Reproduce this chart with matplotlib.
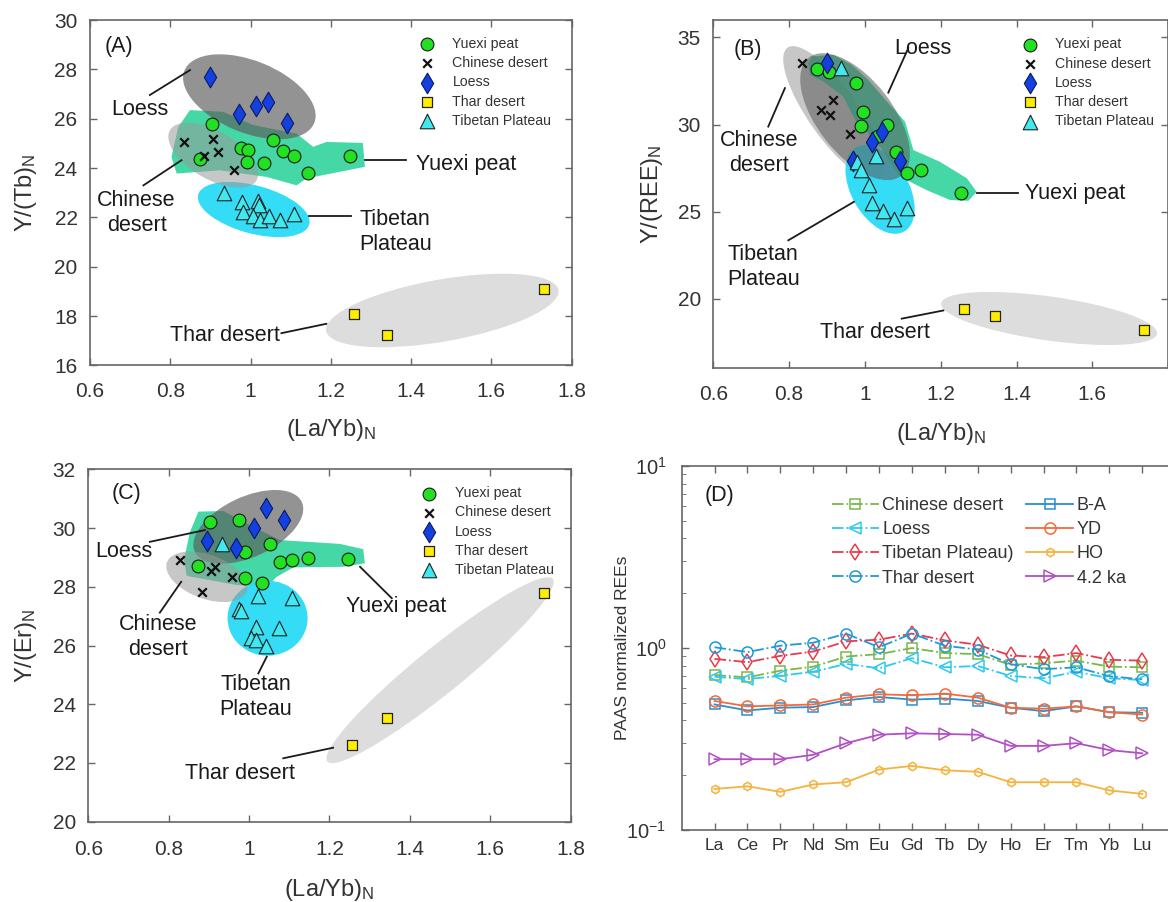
import matplotlib
matplotlib.use('Agg')
import matplotlib.pyplot as plt
from matplotlib.patches import Ellipse, Polygon
from matplotlib.transforms import ScaledTranslation

plt.rcParams['font.family'] = 'Liberation Sans'
plt.rcParams['mathtext.fontset'] = 'custom'
plt.rcParams['mathtext.rm'] = 'Liberation Sans'
plt.rcParams['mathtext.it'] = 'Liberation Sans:italic'
plt.rcParams['mathtext.bf'] = 'Liberation Sans:bold'

# ---- (A) Y/Tb vs La/Yb ----
a_yuexi_x = [0.905, 0.976, 0.993, 0.874, 0.990, 1.034, 1.055, 1.080, 1.109, 1.144, 1.249]
a_yuexi_y = [25.78, 24.83, 24.72, 24.35, 24.24, 24.20, 25.13, 24.68, 24.49, 23.80, 24.49]
a_chn_x = [0.835, 0.907, 0.918, 0.884, 0.959]
a_chn_y = [25.06, 25.17, 24.67, 24.49, 23.91]
a_loess_x = [0.899, 0.971, 1.013, 1.044, 1.090]
a_loess_y = [27.70, 26.21, 26.51, 26.67, 25.83]
a_thar_x = [1.257, 1.340, 1.731]
a_thar_y = [18.10, 17.25, 19.10]
a_tib_x = [0.934, 0.979, 1.019, 1.021, 0.982, 1.007, 1.023, 1.045, 1.074, 1.108]
a_tib_y = [22.97, 22.63, 22.67, 22.49, 22.20, 22.05, 21.88, 22.06, 21.88, 22.12]

# ---- (B) Y/REE vs La/Yb ----
b_yuexi_x = [0.874, 0.906, 0.976, 0.994, 0.990, 1.058, 1.035, 1.081, 1.112, 1.148, 1.253]
b_yuexi_y = [33.17, 33.02, 32.36, 30.71, 29.90, 30.00, 29.32, 28.40, 27.21, 27.40, 26.06]
b_chn_x = [0.833, 0.917, 0.883, 0.908, 0.961]
b_chn_y = [33.56, 31.40, 30.86, 30.52, 29.48]
b_loess_x = [0.899, 1.044, 1.018, 0.969, 1.093]
b_loess_y = [33.52, 29.55, 28.98, 27.88, 27.88]
b_thar_x = [1.261, 1.344, 1.737]
b_thar_y = [19.42, 19.00, 18.21]
b_tib_x = [0.937, 1.028, 0.978, 0.989, 1.012, 1.020, 1.047, 1.077, 1.112]
b_tib_y = [33.27, 28.21, 27.82, 27.40, 26.53, 25.51, 25.05, 24.56, 25.19]

# ---- (C) Y/Er vs La/Yb ----
c_yuexi_x = [0.902, 0.976, 1.053, 0.991, 0.873, 1.078, 1.107, 1.146, 1.247, 0.989, 1.032]
c_yuexi_y = [30.21, 30.27, 29.47, 29.18, 28.70, 28.86, 28.90, 28.99, 28.93, 28.29, 28.14]
c_chn_x = [0.829, 0.914, 0.906, 0.958, 0.883]
c_chn_y = [28.90, 28.69, 28.53, 28.32, 27.81]
c_loess_x = [1.041, 1.088, 1.012, 0.895, 0.968]
c_loess_y = [30.69, 30.27, 30.01, 29.56, 29.33]
c_thar_x = [1.257, 1.342, 1.734]
c_thar_y = [22.62, 23.53, 27.78]
c_tib_x = [0.933, 1.022, 1.107, 0.976, 0.980, 1.017, 1.074, 1.004, 1.016, 1.042]
c_tib_y = [29.47, 27.70, 27.61, 27.24, 27.18, 26.64, 26.61, 26.25, 26.18, 25.99]

# ---- (D) PAAS normalized REE patterns ----
ree = ['La', 'Ce', 'Pr', 'Nd', 'Sm', 'Eu', 'Gd', 'Tb', 'Dy', 'Ho', 'Er', 'Tm', 'Yb', 'Lu']
d_chinese = [0.711, 0.690, 0.751, 0.790, 0.898, 0.926, 1.000, 0.938, 0.926, 0.808, 0.825, 0.853, 0.790, 0.784]
d_loess = [0.695, 0.675, 0.704, 0.741, 0.818, 0.774, 0.880, 0.784, 0.797, 0.702, 0.682, 0.741, 0.682, 0.667]
d_tibet = [0.872, 0.836, 0.906, 0.957, 1.088, 1.112, 1.200, 1.102, 1.043, 0.910, 0.891, 0.938, 0.861, 0.853]
d_thar = [1.010, 0.950, 1.030, 1.070, 1.200, 1.010, 1.200, 1.030, 0.980, 0.815, 0.765, 0.784, 0.700, 0.673]
d_ba = [0.490, 0.454, 0.470, 0.474, 0.516, 0.538, 0.521, 0.528, 0.512, 0.470, 0.450, 0.478, 0.444, 0.441]
d_yd = [0.512, 0.478, 0.484, 0.490, 0.534, 0.557, 0.550, 0.562, 0.534, 0.470, 0.464, 0.478, 0.444, 0.431]
d_ho = [0.168, 0.174, 0.162, 0.178, 0.183, 0.215, 0.225, 0.213, 0.209, 0.183, 0.183, 0.183, 0.165, 0.158]
d_42ka = [0.245, 0.245, 0.245, 0.259, 0.300, 0.334, 0.340, 0.337, 0.334, 0.290, 0.290, 0.300, 0.275, 0.264]

xticks = [0.6, 0.8, 1.0, 1.2, 1.4, 1.6, 1.8]
xticklabels = ['0.6', '0.8', '1', '1.2', '1.4', '1.6', '1.8']
TXT = '#1a1a1a'
GRID = '#666666'

fig = plt.figure(figsize=(11.68, 9.02), dpi=100)
ax_a = fig.add_axes([0.0771, 0.5948, 0.4122, 0.3830])
ax_b = fig.add_axes([0.6107, 0.5917, 0.3894, 0.3861])
ax_c = fig.add_axes([0.0756, 0.0890, 0.4130, 0.3907])
ax_d = fig.add_axes([0.5836, 0.0798, 0.4225, 0.4035])


def blob(ax, cx, cy, w, h, ang, color, alpha, z):
    # ellipse sized in screen pixels, centred on a data point
    tr = fig.dpi_scale_trans + ScaledTranslation(cx, cy, ax.transData)
    ax.add_patch(Ellipse((0, 0), w / 100, h / 100, angle=ang, transform=tr,
                         fc=color, ec='none', alpha=alpha, zorder=z))


def envelope(ax, pts):
    ax.add_patch(Polygon(pts, closed=True, fc='#24d195', ec='none', alpha=0.85, zorder=2))


def tag(ax, x, y, s, line, ha='center'):
    ax.text(x, y, s, ha=ha, va='center', fontsize=15.5, color=TXT, linespacing=1.25, zorder=7)
    (x1, y1), (x2, y2) = line
    ax.plot([x1, x2], [y1, y2], color=TXT, lw=1.3, zorder=7)


def points(ax, yx, yy, cx, cy, lx, ly, thx, thy, tx, ty):
    h1 = ax.scatter(yx, yy, s=85, marker='o', fc='#22e022', ec='#1a1a1a', lw=0.8, zorder=6)
    h2 = ax.scatter(cx, cy, s=38, marker='x', c='#111111', lw=1.6, zorder=6)
    h3 = ax.scatter(lx, ly, s=110, marker='d', fc='#1440e0', ec='#0a1a60', lw=0.8, zorder=6)
    h4 = ax.scatter(thx, thy, s=60, marker='s', fc='#ffee00', ec='#222222', lw=0.9, zorder=6)
    h5 = ax.scatter(tx, ty, s=110, marker='^', fc='#40e8f0', ec='#222222', lw=0.8, zorder=6)
    return [h1, h2, h3, h4, h5]


def legend(ax, handles, fx, fy):
    leg = ax.legend(handles, ['Yuexi peat', 'Chinese desert', 'Loess', 'Thar desert', 'Tibetan Plateau'],
                    loc='upper left', bbox_to_anchor=(fx, fy), frameon=False, fontsize=10.2,
                    handlelength=1.0, handletextpad=1.3, labelspacing=0.37, borderpad=0,
                    borderaxespad=0, scatterpoints=1)
    for t in leg.get_texts():
        t.set_color('#333333')


def frame(ax, ylim, yticks, ylabel, ylab_x, xlab_y, xpad):
    ax.set_xlim(0.6, 1.8)
    ax.set_ylim(*ylim)
    ax.set_xticks(xticks)
    ax.set_xticklabels(xticklabels)
    ax.set_yticks(yticks)
    ax.tick_params(direction='in', top=True, right=True, length=5, width=1,
                   color=GRID, labelcolor='#333333', labelsize=15)
    ax.tick_params(axis='x', pad=xpad)
    ax.tick_params(axis='y', pad=9)
    for s in ax.spines.values():
        s.set_color(GRID)
        s.set_linewidth(1.2)
    ax.set_xlabel(r'(La/Yb)$_\mathregular{N}$', fontsize=17, color='#333333')
    ax.set_ylabel(ylabel, fontsize=17, color='#333333')
    ax.xaxis.set_label_coords(0.5, xlab_y)
    ax.yaxis.set_label_coords(ylab_x, 0.5)


# panel A
blob(ax_a, 1.478, 18.23, 236, 62, 10, '#dddddd', 1.0, 1)
blob(ax_a, 1.008, 22.32, 115, 48, -15, '#2adaf6', 0.95, 1)
envelope(ax_a, [(0.849, 26.35), (0.932, 26.28), (1.007, 25.74), (1.115, 25.40), (1.156, 24.86),
                (1.189, 25.06), (1.280, 25.02), (1.285, 24.05), (1.139, 23.58), (1.115, 23.30),
                (1.040, 23.64), (0.924, 23.91), (0.816, 23.78), (0.803, 24.45), (0.820, 25.67)])
blob(ax_a, 0.997, 26.89, 140, 72, -22, '#5a5a5a', 0.65, 3)
blob(ax_a, 0.907, 24.52, 100, 48, -30, '#999999', 0.55, 4)
hs = points(ax_a, a_yuexi_x, a_yuexi_y, a_chn_x, a_chn_y, a_loess_x, a_loess_y,
            a_thar_x, a_thar_y, a_tib_x, a_tib_y)
legend(ax_a, hs, 0.685, 0.951)
tag(ax_a, 0.724, 26.39, 'Loess', [(0.749, 26.96), (0.849, 27.97)])
tag(ax_a, 0.716, 22.16, 'Chinese\ndesert', [(0.733, 23.30), (0.828, 24.32)])
tag(ax_a, 1.413, 24.14, 'Yuexi peat', [(1.285, 24.32), (1.388, 24.32)], ha='left')
tag(ax_a, 1.272, 21.41, 'Tibetan\nPlateau', [(1.146, 22.06), (1.251, 22.06)], ha='left')
tag(ax_a, 1.073, 17.22, 'Thar desert', [(1.077, 17.31), (1.189, 17.69)], ha='right')
ax_a.text(0.059, 0.923, '(A)', transform=ax_a.transAxes, ha='center', va='center', fontsize=15.5, color=TXT)
frame(ax_a, (16, 30), range(16, 31, 2), r'Y/(Tb)$_\mathregular{N}$', -0.106, -0.150, 12)

# panel B
blob(ax_b, 1.486, 18.86, 218, 44, -8, '#dddddd', 1.0, 1)
blob(ax_b, 0.917, 30.65, 160, 50, -55, '#999999', 0.55, 1)
blob(ax_b, 1.040, 26.27, 97, 57, -60, '#2adaf6', 0.95, 1)
envelope(ax_b, [(0.860, 33.91), (0.917, 34.00), (0.965, 33.43), (1.009, 32.56), (1.058, 31.32),
                (1.106, 30.16), (1.128, 28.53), (1.198, 27.86), (1.269, 26.91), (1.295, 26.13),
                (1.273, 25.62), (1.225, 25.66), (1.163, 26.23), (1.093, 27.00), (1.058, 28.15),
                (1.022, 29.21), (0.974, 30.26), (0.943, 31.60), (0.890, 32.47), (0.855, 32.85),
                (0.851, 33.53)])
blob(ax_b, 0.974, 30.45, 150, 75, -52, '#5a5a5a', 0.55, 3)
hs = points(ax_b, b_yuexi_x, b_yuexi_y, b_chn_x, b_chn_y, b_loess_x, b_loess_y,
            b_thar_x, b_thar_y, b_tib_x, b_tib_y)
legend(ax_b, hs, 0.680, 0.950)
tag(ax_b, 1.1525, 34.39, 'Loess', [(1.1145, 34.39), (1.0617, 31.83)])
tag(ax_b, 0.721, 28.34, 'Chinese\ndesert', [(0.745, 29.88), (0.789, 32.09)])
tag(ax_b, 1.422, 26.04, 'Yuexi peat', [(1.295, 26.04), (1.405, 26.04)], ha='left')
tag(ax_b, 0.732, 21.82, 'Tibetan\nPlateau', [(0.798, 23.35), (0.971, 25.56)])
tag(ax_b, 1.027, 18.07, 'Thar desert', [(1.097, 18.85), (1.207, 19.32)])
ax_b.text(0.076, 0.914, '(B)', transform=ax_b.transAxes, ha='center', va='center', fontsize=15.5, color=TXT)
frame(ax_b, (16, 36), [20, 25, 30, 35], r'Y/(REE)$_\mathregular{N}$', -0.106, -0.152, 12)
ax_b.set_xticklabels(xticklabels[:-1] + [''])

# panel C
blob(ax_c, 1.475, 25.16, 290, 46, 39, '#dddddd', 1.0, 1)
envelope(ax_c, [(0.874, 30.56), (0.936, 30.58), (1.010, 30.04), (1.077, 29.59), (1.226, 29.46),
                (1.284, 29.28), (1.288, 28.80), (1.234, 28.68), (1.110, 28.66), (1.069, 28.34),
                (1.044, 28.00), (0.969, 28.06), (0.845, 28.37), (0.838, 28.91), (0.853, 29.87)])
blob(ax_c, 1.046, 26.93, 80, 75, 0, '#2adaf6', 0.95, 2.5)
blob(ax_c, 0.998, 30.04, 118, 60, 25, '#5a5a5a', 0.65, 3)
blob(ax_c, 0.895, 28.34, 85, 44, -20, '#999999', 0.55, 4)
hs = points(ax_c, c_yuexi_x, c_yuexi_y, c_chn_x, c_chn_y, c_loess_x, c_loess_y,
            c_thar_x, c_thar_y, c_tib_x, c_tib_y)
legend(ax_c, hs, 0.692, 0.952)
tag(ax_c, 0.688, 29.19, 'Loess', [(0.753, 29.53), (0.890, 29.93)])
tag(ax_c, 0.774, 26.30, 'Chinese\ndesert', [(0.778, 27.12), (0.831, 28.17)])
tag(ax_c, 1.365, 27.32, 'Yuexi peat', [(1.355, 27.61), (1.276, 28.68)])
tag(ax_c, 1.017, 24.25, 'Tibetan\nPlateau', [(1.023, 25.05), (1.044, 25.62)])
tag(ax_c, 0.976, 21.65, 'Thar desert', [(1.085, 22.16), (1.209, 22.52)])
ax_c.text(0.080, 0.932, '(C)', transform=ax_c.transAxes, ha='center', va='center', fontsize=15.5, color=TXT)
frame(ax_c, (20, 32), range(20, 33, 2), r'Y/(Er)$_\mathregular{N}$', -0.102, -0.156, 13)

# panel D
pos = list(range(1, len(ree) + 1))
series = [
    ('Chinese desert', d_chinese, '#78b84a', 's', '-.', 7),
    ('Loess', d_loess, '#30c8f0', '<', '-.', 8),
    ('Tibetan Plateau)', d_tibet, '#e83c4c', 'd', '-.', 8),
    ('Thar desert', d_thar, '#1f9ad6', 'o', '-.', 8),
    ('B-A', d_ba, '#2a8fcf', 's', '-', 7),
    ('YD', d_yd, '#f26b3d', 'o', '-', 8),
    ('HO', d_ho, '#f5b33c', 'h', '-', 6),
    ('4.2 ka', d_42ka, '#b14fc4', '>', '-', 8),
]
for name, vals, col, mk, ls, ms in series:
    ax_d.plot(pos, vals, ls=ls, marker=mk, color=col, mfc='none', mec=col, ms=ms,
              mew=1.1, lw=1.3, label=name)
ax_d.set_yscale('log')
ax_d.set_ylim(0.1, 10)
ax_d.set_xlim(0, 15)
ax_d.set_xticks(pos)
ax_d.set_xticklabels(ree)
ax_d.tick_params(direction='in', top=True, right=True, length=5, width=1, color=GRID,
                 labelcolor='#333333')
ax_d.tick_params(axis='x', labelsize=12.5, pad=6)
ax_d.tick_params(axis='y', labelsize=14.5, pad=11)
ax_d.tick_params(axis='y', which='minor', direction='in', length=3, color=GRID, right=True)
for s in ax_d.spines.values():
    s.set_color(GRID)
    s.set_linewidth(1.2)
ax_d.set_ylabel('PAAS normalized REEs', fontsize=12.5, color='#333333')
ax_d.yaxis.set_label_coords(-0.105, 0.5)
leg = ax_d.legend(loc='upper left', bbox_to_anchor=(0.304, 0.915), ncol=2, frameon=False,
                  fontsize=13, handlelength=2.6, handletextpad=0.2, labelspacing=0.4,
                  columnspacing=0.7, borderpad=0, borderaxespad=0)
for t in leg.get_texts():
    t.set_color('#333333')
ax_d.text(0.077, 0.92, '(D)', transform=ax_d.transAxes, ha='center', va='center', fontsize=15.5, color=TXT)

fig.savefig('out.png', dpi=100)
